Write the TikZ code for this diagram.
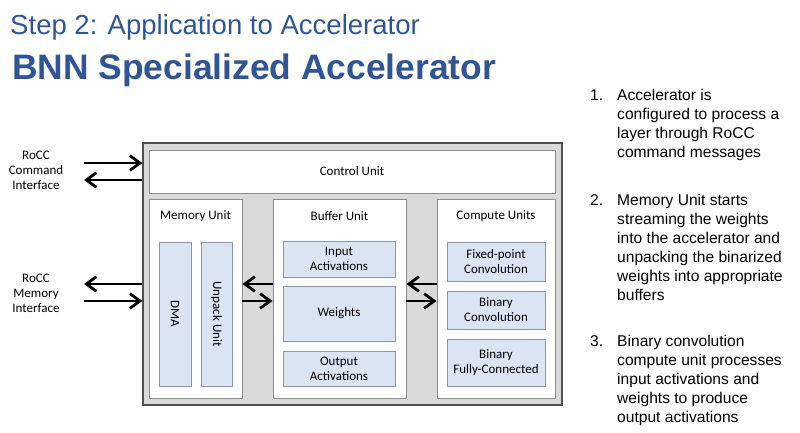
\documentclass[tikz,border=0pt]{standalone}
\usepackage{fontspec}
\setmainfont{Liberation Sans}
\newfontfamily\diagfont{Carlito}
\usepackage{tikz}
\usetikzlibrary{arrows.meta,positioning}
\definecolor{titleblue}{RGB}{47,85,151}
\definecolor{accgray}{RGB}{217,217,217}
\definecolor{accline}{RGB}{80,80,80}
\definecolor{unitline}{RGB}{140,140,140}
\definecolor{partblue}{RGB}{219,228,243}
\definecolor{partline}{RGB}{132,150,178}
\newcommand{\pxl}{0.03cm}

\begin{document}
\begin{tikzpicture}[x=0.03cm,y=-0.03cm]
	\useasboundingbox (0,0) rectangle (800,433);
	% title
	\node [anchor=base west, inner sep=0, text=titleblue, font=\fontsize{23.5}{28}\selectfont] (step) at (10,35) {Step 2: Application to Accelerator};
	\node [anchor=base west, inner sep=0, text=titleblue, font=\bfseries\fontsize{30.2}{36}\selectfont] (bnn) at (12,80) {BNN Specialized Accelerator};
	\begin{scope}[font=\diagfont\fontsize{11.1}{12.9}\selectfont,
		>={Straight Barb[length=3mm,width=4.4mm]},
		accbox/.style={rectangle,draw=accline,fill=accgray,line width=1.1pt},
		unitbox/.style={rectangle,draw=unitline,fill=white,line width=0.8pt},
		partbox/.style={rectangle,draw=partline,fill=partblue,line width=0.6pt,align=center},
		bigarrow/.style={line width=2.4pt}]
		\node [accbox, minimum width=419*\pxl, minimum height=262*\pxl]		(acc)	at (352.5,274)	{};
		\node [unitbox, minimum width=406*\pxl, minimum height=43*\pxl]		(ctrl)	at (352,171.5)	{Control Unit};
		\node [unitbox, minimum width=93*\pxl, minimum height=199*\pxl]		(mem)	at (195.5,298.5)	{};
		\node [unitbox, minimum width=133*\pxl, minimum height=199*\pxl]		(buf)	at (339.5,298.5)	{};
		\node [unitbox, minimum width=118*\pxl, minimum height=199*\pxl]		(comp)	at (496,298.5)	{};
		\coordinate (titleRow) at (0,216);
		\node (memT)	at (mem |- titleRow)	{Memory Unit};
		\node (bufT)	at (buf |- titleRow)	{Buffer Unit};
		\node (compT)	at (comp |- titleRow)	{Compute Units};
		% memory unit parts
		\node [partbox, rotate=-90, minimum width=144*\pxl, minimum height=32*\pxl]	(dma)	at (175,314)	{DMA};
		\node [partbox, rotate=-90, minimum width=144*\pxl, minimum height=31*\pxl]	(unpack)	at (216.5,314)	{Unpack Unit};
		% buffer unit parts
		\node [partbox, minimum width=112*\pxl, minimum height=36*\pxl]	(inact)	at (339,259)	{Input\\Activations};
		\node [partbox, minimum width=112*\pxl, minimum height=55*\pxl]	(wts)	at (339,313.5)	{Weights};
		\node [partbox, minimum width=112*\pxl, minimum height=35*\pxl]	(outact)	at (339,368.5)	{Output\\Activations};
		% compute unit parts
		\node [partbox, minimum width=98*\pxl, minimum height=39*\pxl]	(fixconv)	at (496,261.5)	{Fixed-point\\Convolution};
		\node [partbox, minimum width=98*\pxl, minimum height=38*\pxl]	(binconv)	at (496,310)	{Binary\\Convolution};
		\node [partbox, minimum width=98*\pxl, minimum height=47*\pxl]	(binfc)	at (496,362.5)	{Binary\\Fully-Connected};
		% interfaces
		\node [align=center]	(cmdLbl)	at (36,170)	{RoCC\\Command\\Interface};
		\node [align=center]	(memLbl)	at (36,293)	{RoCC\\Memory\\Interface};
		\coordinate (cmdIn)		at (84,163);
		\coordinate (cmdOut)	at (84,180);
		\coordinate (memOut)	at (84,284);
		\coordinate (memIn)		at (84,301);
		\coordinate (upRow)		at (0,284);
		\coordinate (dnRow)		at (0,301);
		\path [bigarrow]
		(cmdIn) edge [->]	(cmdIn -| acc.west)
		(cmdOut -| acc.west) edge [->]	(cmdOut)
		(memOut -| acc.west) edge [->]	(memOut)
		(memIn) edge [->]	(memIn -| acc.west)
		(buf.west |- upRow) edge [->]	(mem.east |- upRow)
		(mem.east |- dnRow) edge [->]	(buf.west |- dnRow)
		(comp.west |- upRow) edge [->]	(buf.east |- upRow)
		(buf.east |- dnRow) edge [->]	(comp.west |- dnRow)
		;
	\end{scope}
	% notes
	\begin{scope}[font=\fontsize{13.3}{16.2}\selectfont,
		num/.style={anchor=base west,inner sep=0},
		note/.style={anchor=base west,inner sep=0}]
		\node [num]		(n1)	at (590,101)	{1.};
		\node [note]	(t1)	at (617,101)	{\begin{tabular}[t]{@{}l@{}}Accelerator is\\configured to process a\\layer through RoCC\\command messages\end{tabular}};
		\node [num]		(n2)	at (590,206)	{2.};
		\node [note]	(t2)	at (617,206)	{\begin{tabular}[t]{@{}l@{}}Memory Unit starts\\streaming the weights\\into the accelerator and\\unpacking the binarized\\weights into appropriate\\buffers\end{tabular}};
		\node [num]		(n3)	at (590,347)	{3.};
		\node [note]	(t3)	at (617,347)	{\begin{tabular}[t]{@{}l@{}}Binary convolution\\compute unit processes\\input activations and\\weights to produce\\output activations\end{tabular}};
	\end{scope}
\end{tikzpicture}
\end{document}
